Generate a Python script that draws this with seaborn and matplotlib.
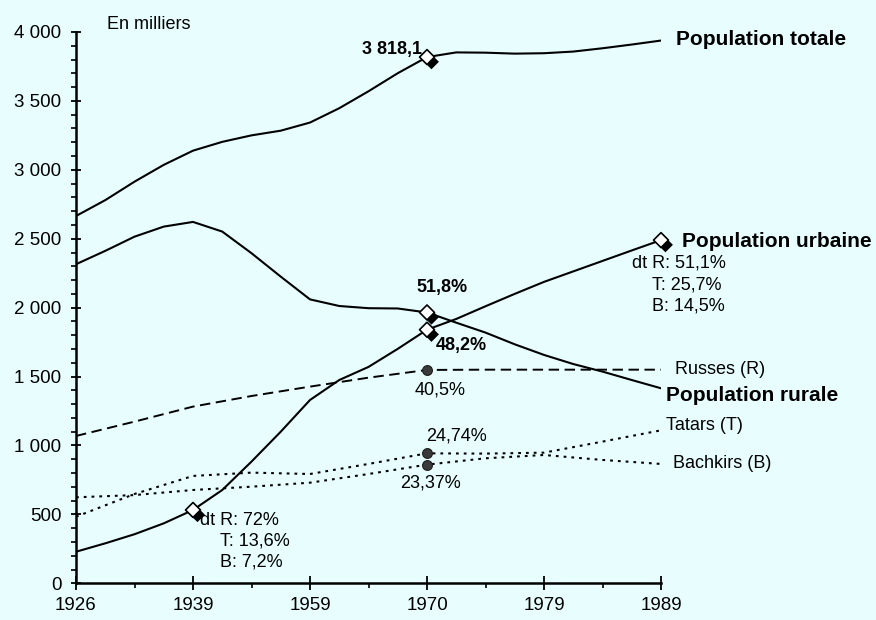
import matplotlib
matplotlib.use("Agg")
import matplotlib.pyplot as plt
import matplotlib.patheffects as pe
from matplotlib.ticker import FixedLocator, MultipleLocator
import seaborn as sns
import pandas as pd

# ---------------- data (thousands) ----------------
years = ["1926", "1939", "1959", "1970", "1979", "1989"]

# solid curves, read every quarter of a category step
pos_q = [0, 0.25, 0.5, 0.75, 1, 1.25, 1.5, 1.75, 2, 2.25, 2.5,
         2.75, 3, 3.25, 3.5, 3.75, 4, 4.25, 4.5, 4.75, 5]
totale = [2665, 2780, 2914, 3036, 3139, 3203, 3250, 3284, 3343, 3447, 3570,
          3701, 3818, 3852, 3850, 3843, 3846, 3858, 3882, 3909, 3938]
rurale = [2315, 2412, 2515, 2588, 2622, 2552, 2395, 2225, 2060, 2012, 1996,
          1994, 1965, 1891, 1819, 1734, 1657, 1591, 1536, 1475, 1415]
urbaine = [229, 290, 356, 435, 532, 677, 883, 1100, 1330, 1475, 1570,
           1701, 1840, 1918, 2010, 2100, 2187, 2263, 2339, 2415, 2490]

# dashed / dotted curves, read every half step
pos_h = [0, 0.5, 1, 1.5, 2, 2.5, 3, 3.5, 4, 4.5, 5]
russes = [1069, 1173, 1282, 1359, 1427, 1492, 1548, 1550, 1550, 1550, 1550]
tatars = [483, 648, 779, 803, 793, 866, 943, 941, 948, 1028, 1110]
bachkirs = [624, 640, 677, 701, 730, 793, 861, 907, 931, 895, 866]

yticks = [0, 500, 1000, 1500, 2000, 2500, 3000, 3500, 4000]
ytick_labels = ["0", "500", "1 000", "1 500", "2 000", "2 500", "3 000", "3 500", "4 000"]

bg = "#E8FEFE"

sns.set_style("ticks")
plt.rcParams["font.family"] = ["Liberation Sans", "DejaVu Sans"]
plt.rcParams["lines.scale_dashes"] = False
plt.rcParams["lines.solid_joinstyle"] = "round"
plt.rcParams["lines.dash_capstyle"] = "butt"

fig = plt.figure(figsize=(8.76, 6.2), dpi=100, facecolor=bg)
ax = fig.add_axes([76 / 876, 1 - 583.3 / 620, (661 - 76) / 876, (583.3 - 32) / 620])
ax.set_facecolor(bg)

# ---------------- lines ----------------
solid = dict(color="black", linewidth=1.5, estimator=None, sort=False, ax=ax)
sns.lineplot(x=pos_q, y=totale, **solid)
sns.lineplot(x=pos_q, y=rurale, **solid)
sns.lineplot(x=pos_q, y=urbaine, **solid)
sns.lineplot(x=pos_h, y=russes, color="black", linewidth=1.4, linestyle=(0, (7.5, 4)),
             estimator=None, sort=False, ax=ax)
sns.lineplot(x=pos_h, y=tatars, color="black", linewidth=1.5, linestyle=(0, (2.0, 3.6)),
             estimator=None, sort=False, ax=ax)
sns.lineplot(x=pos_h, y=bachkirs, color="black", linewidth=1.5, linestyle=(0, (2.0, 3.6)),
             estimator=None, sort=False, ax=ax)

# ---------------- markers ----------------
q1939, q1970, q1989 = pos_q.index(1), pos_q.index(3), pos_q.index(5)
h1970 = pos_h.index(3)
diamonds = pd.DataFrame({
    "x": [1, 3, 3, 3, 5],
    "y": [urbaine[q1939], totale[q1970], rurale[q1970], urbaine[q1970], urbaine[q1989]],
})
sns.scatterplot(data=diamonds, x="x", y="y", marker="D", s=58, color="white",
                edgecolor="black", linewidth=1.2, clip_on=False, zorder=5, ax=ax,
                path_effects=[pe.SimplePatchShadow(offset=(3.2, -3.4), shadow_rgbFace="black", alpha=1.0),
                              pe.Normal()])
dots = pd.DataFrame({"x": [3, 3, 3], "y": [russes[h1970], tatars[h1970], bachkirs[h1970]]})
sns.scatterplot(data=dots, x="x", y="y", marker="o", s=50, color="#3a3a3a",
                edgecolor="#1e1e1e", linewidth=0.8, zorder=5, ax=ax)

# ---------------- axes ----------------
ax.set_xlim(0, 5)
ax.set_ylim(0, 4000)
for s in ["top", "right"]:
    ax.spines[s].set_visible(False)
for s in ["left", "bottom"]:
    ax.spines[s].set_linewidth(1.8)
    ax.spines[s].set_color("black")

ax.set_xticks(range(len(years)))
ax.set_xticklabels(years)
ax.xaxis.set_minor_locator(FixedLocator([0.5, 1.5, 2.5, 3.5, 4.5]))
ax.set_yticks(yticks)
ax.set_yticklabels(ytick_labels)
ax.yaxis.set_minor_locator(MultipleLocator(100))

ax.tick_params(axis="x", which="major", direction="inout", length=10, width=1.3,
               pad=5, labelsize=13.5, colors="black")
ax.tick_params(axis="x", which="minor", direction="out", length=3.6, width=1.2, colors="black")
ax.tick_params(axis="y", which="major", direction="inout", length=7.2, width=1.3,
               pad=7, labelsize=13.5, colors="black")
ax.tick_params(axis="y", which="minor", direction="out", length=3.6, width=1.2, colors="black")
ax.set_xlabel("")
ax.set_ylabel("")

# ---------------- annotations ----------------
reg = dict(fontsize=13, color="black", va="center", clip_on=False)
bold_big = dict(fontsize=15, fontweight="bold", color="black", va="center", ha="left")
bold_mid = dict(fontsize=13, fontweight="bold", color="black", va="center")

ax.text(0.265, 4052, "En milliers", ha="left", **reg)
ax.text(2.957, 3870, "3 818,1", ha="right", **bold_mid)
ax.text(5.128, 3943, "Population totale", **bold_big)
ax.text(5.18, 2477, "Population urbaine", **bold_big)
ax.text(4.752, 2324, "dt R: 51,1%", ha="left", **reg)
ax.text(4.923, 2165, "T: 25,7%", ha="left", **reg)
ax.text(4.923, 2013, "B: 14,5%", ha="left", **reg)
ax.text(3.124, 2143, "51,8%", ha="center", **bold_mid)
ax.text(3.295, 1722, "48,2%", ha="center", **bold_mid)
ax.text(3.115, 1403, "40,5%", ha="center", **reg)
ax.text(5.12, 1548, "Russes (R)", ha="left", **reg)
ax.text(5.043, 1360, "Population rurale", **bold_big)
ax.text(5.043, 1142, "Tatars (T)", ha="left", **reg)
ax.text(3.252, 1069, "24,74%", ha="center", **reg)
ax.text(5.103, 872, "Bachkirs (B)", ha="left", **reg)
ax.text(3.03, 730, "23,37%", ha="center", **reg)
ax.text(1.06, 459, "dt R: 72%", ha="left", **reg)
ax.text(1.231, 307, "T: 13,6%", ha="left", **reg)
ax.text(1.231, 155, "B: 7,2%", ha="left", **reg)

fig.savefig("out.png", dpi=100, facecolor=bg)
